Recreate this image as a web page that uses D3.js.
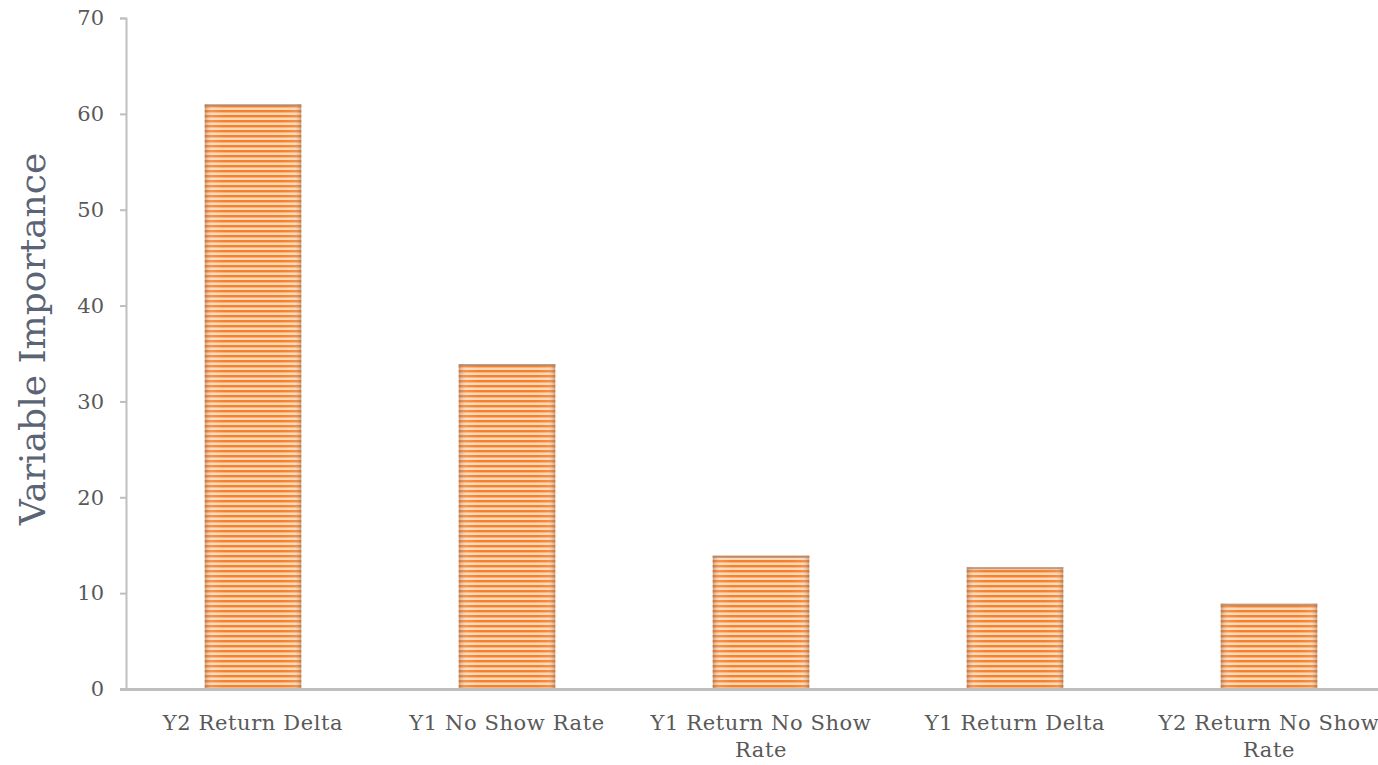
<!DOCTYPE html>
<html><head><meta charset="utf-8">
<script src="https://cdn.jsdelivr.net/npm/d3@7"></script>
<style>body{margin:0;background:#fff;overflow:hidden}</style>
</head><body>
<svg id="c" width="1378" height="765"></svg>
<script>
const categories = ["Y2 Return Delta","Y1 No Show Rate","Y1 Return No Show Rate","Y1 Return Delta","Y2 Return No Show Rate"];
const labelLines = [["Y2 Return Delta"],["Y1 No Show Rate"],["Y1 Return No Show","Rate"],["Y1 Return Delta"],["Y2 Return No Show","Rate"]];
const values = [61.0, 33.9, 13.9, 12.7, 8.9];
const yTicks = [0,10,20,30,40,50,60,70];
const yTitle = "Variable Importance";

const svg = d3.select("#c");
const mLeft = 126, mRight = 1396, mTop = 18, mBottom = 689;
const x = d3.scaleBand().domain(categories).range([mLeft, mRight]).paddingInner(0.62).paddingOuter(0.31);
const y = d3.scaleLinear().domain([0,70]).range([mBottom, mTop]);
const font = "'DejaVu Serif', serif";

const defs = svg.append("defs");
const pat = defs.append("pattern").attr("id","stripes").attr("patternUnits","userSpaceOnUse")
  .attr("width",10).attr("height",5);
pat.append("rect").attr("width",10).attr("height",5).attr("fill","#fdd8b8");
pat.append("rect").attr("y",0).attr("width",10).attr("height",2).attr("fill","#f4812e");
pat.append("rect").attr("y",2).attr("width",10).attr("height",0.8).attr("fill","#f8a866");
const g = defs.append("linearGradient").attr("id","edge").attr("x1","0").attr("x2","1").attr("y1","0").attr("y2","0");
[[0,"#8a5a3a",0.45],[0.08,"#ffffff",0.12],[0.2,"#ffffff",0],[0.8,"#ffffff",0],[0.92,"#ffffff",0.08],[1,"#8a5a3a",0.45]]
  .forEach(s=>g.append("stop").attr("offset",s[0]).attr("stop-color",s[1]).attr("stop-opacity",s[2]));

const bars = svg.append("g");
bars.selectAll("rect.b").data(values).join("rect").attr("class","b")
  .attr("x",(d,i)=>x(categories[i])).attr("width",x.bandwidth())
  .attr("y",d=>y(d)).attr("height",d=>mBottom-y(d)).attr("fill","url(#stripes)");
bars.selectAll("rect.e").data(values).join("rect").attr("class","e")
  .attr("x",(d,i)=>x(categories[i])).attr("width",x.bandwidth())
  .attr("y",d=>y(d)).attr("height",d=>mBottom-y(d)).attr("fill","url(#edge)");
bars.selectAll("rect.t").data(values).join("rect").attr("class","t")
  .attr("x",(d,i)=>x(categories[i])).attr("width",x.bandwidth())
  .attr("y",d=>y(d)).attr("height",2).attr("fill","#b08a70").attr("opacity",0.8);

// y axis
const ya = svg.append("g").attr("transform",`translate(${mLeft},0)`)
  .call(d3.axisLeft(y).tickValues(yTicks).tickSize(6).tickPadding(16));
ya.select(".domain").attr("stroke","#bfbfbf").attr("stroke-width",2);
ya.selectAll(".tick line").attr("stroke","#bfbfbf").attr("stroke-width",2);
ya.selectAll(".tick text").attr("font-family",font).attr("font-size",21).attr("fill","#595959");

// x axis
svg.append("line").attr("x1",120).attr("x2",1378).attr("y1",mBottom+0.5).attr("y2",mBottom+0.5)
  .attr("stroke","#bfbfbf").attr("stroke-width",3);

const xl = svg.append("g");
categories.forEach((c,i)=>{
  const t = xl.append("text").attr("x",x(c)+x.bandwidth()/2).attr("y",730)
    .attr("text-anchor","middle").attr("font-family",font).attr("font-size",21).attr("fill","#595959")
    .attr("letter-spacing",0.6);
  labelLines[i].forEach((l,j)=>t.append("tspan").attr("x",x(c)+x.bandwidth()/2).attr("dy",j?27:0).text(l));
});

svg.append("text").attr("transform",`translate(45,339) rotate(-90)`)
  .attr("text-anchor","middle").attr("font-family",font).attr("font-size",36).attr("fill","#5b6474").text(yTitle);
</script>
</body></html>
